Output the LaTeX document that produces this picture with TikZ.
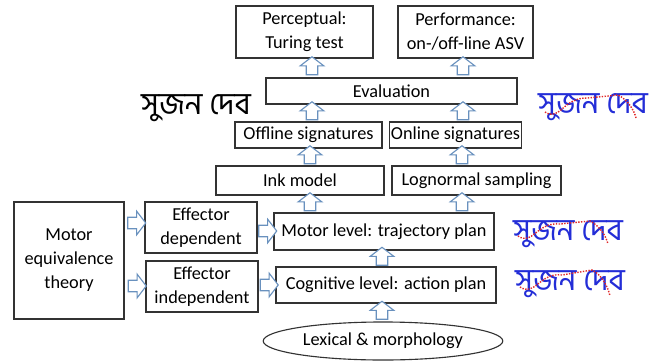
\documentclass[tikz,border=0pt]{standalone}
\usepackage{fontspec}
\setmainfont{Carlito}
\newfontfamily\bnfont[Script=Bengali]{Hind Siliguri}
\usetikzlibrary{shapes.geometric,shapes.arrows}
\definecolor{arrowc}{RGB}{105,145,190}
\definecolor{inkblue}{RGB}{35,45,215}
\definecolor{inkred}{RGB}{225,40,40}
\begin{document}
\begin{tikzpicture}
[x=0.025cm, y=-0.025cm, font=\fontsize{13}{17}\selectfont]
\tikzstyle{box}=[rectangle, draw=black!80, line width=0.8pt, fill=white, align=center, inner sep=1pt]
\tikzstyle{rarrow}=[single arrow, draw=arrowc, fill=white, line width=0.8pt, minimum height=0.45cm, inner xsep=0pt, inner ysep=0.13cm, single arrow head extend=0.15cm, single arrow tip angle=105, text height=0pt, text depth=0pt]
\tikzstyle{uparrow}=[rarrow, rotate=90]
\tikzstyle{sign}=[font=\bnfont\fontsize{22}{22}\selectfont, inner sep=0pt]
\useasboundingbox (0,0) rectangle (665,362);

% evaluation boxes
\node[box, minimum width=3.425cm, minimum height=1.3cm]  (perc)  at (304.5,32)  {Perceptual:\\Turing test};
\node[box, minimum width=3.375cm, minimum height=1.3cm]  (perf)  at (465.5,32)  {Performance:\\on-/off-line ASV};
\node[box, minimum width=6.275cm, minimum height=0.65cm] (evalu) at (391.5,91)  {Evaluation};

% synthesis
\node[box, minimum width=3.675cm, minimum height=0.65cm]  (offl)  at (308.5,135) {Offline signatures};
\node[box, minimum width=3.275cm, minimum height=0.65cm]  (onl)   at (455.5,135) {Online signatures};
\node[box, minimum width=4.2cm,   minimum height=0.725cm] (ink)   at (300,180.5) {Ink model};
\node[box, minimum width=4.225cm, minimum height=0.725cm] (logn)  at (476.5,180.5) {Lognormal sampling};
\node[box, minimum width=5.5cm,   minimum height=0.925cm] (motor) at (384,231.5) {Motor level: trajectory plan};
\node[box, minimum width=5.5cm,   minimum height=0.9cm]   (cogn)  at (386,285)   {Cognitive level: action plan};
\node[ellipse, draw=black!80, line width=0.8pt, minimum width=5.75cm, minimum height=0.95cm] (lex) at (383,341) {Lexical \& morphology};

% motor equivalence
\node[box, minimum width=2.75cm, minimum height=2.925cm] (meq)  at (69,260.5) {Motor\\equivalence\\theory};
\node[box, minimum width=2.8cm,  minimum height=1.275cm] (effd) at (201,227.5) {Effector\\dependent};
\node[box, minimum width=2.8cm,  minimum height=1.275cm] (effi) at (202,286.5) {Effector\\independent};

% hollow arrows
\path (evalu.north -| 312,0) -- node[uparrow] {} (perc.south -| 312,0);
\path (evalu.north -| 463,0) -- node[uparrow] {} (perf.south -| 463,0);
\path (offl.north -| 312,0)  -- node[uparrow] {} (evalu.south -| 312,0);
\path (onl.north -| 463,0)   -- node[uparrow] {} (evalu.south -| 463,0);
\path (ink.north -| 310,0)   -- node[uparrow] {} (offl.south -| 310,0);
\path (logn.north -| 462,0)  -- node[uparrow] {} (onl.south -| 462,0);
\path (motor.north -| 310,0) -- node[uparrow] {} (ink.south -| 310,0);
\path (motor.north -| 462,0) -- node[uparrow] {} (logn.south -| 462,0);
\path (cogn.north -| 382,0)  -- node[uparrow] {} (motor.south -| 382,0);
\path (lex.north -| 382,0)   -- node[uparrow] {} (cogn.south -| 382,0);
\path (meq.east |- 0,223)    -- node[rarrow] {} (effd.west |- 0,223);
\path (meq.east |- 0,286)    -- node[rarrow] {} (effi.west |- 0,286);
\path (effd.east |- 0,231)   -- node[rarrow] {} (motor.west |- 0,231);
\path (effi.east |- 0,285)   -- node[rarrow] {} (cogn.west |- 0,285);

% signatures
\node[sign] (sgoff) at (196,108) {সুজন দেব};
\node[sign, text=inkblue] (sgon)  at (593,107) {সুজন দেব};
\node[sign, text=inkblue] (sgmot) at (568,234) {সুজন দেব};
\node[sign, text=inkblue] (sgcog) at (570,284) {সুজন দেব};
\draw[inkred, densely dotted, line width=1pt] (545,112) .. controls (560,122) and (563,97) .. (588,98) -- (618,95) .. controls (628,100) and (634,110) .. (636,118);
\draw[inkred, densely dotted, line width=1pt] (518,236) .. controls (533,246) and (536,222) .. (560,224) -- (590,221) .. controls (600,226) and (606,236) .. (608,244);
\draw[inkred, densely dotted, line width=1pt] (520,287) .. controls (535,297) and (540,272) .. (562,275) -- (592,270) .. controls (602,275) and (608,287) .. (610,296);
\end{tikzpicture}
\end{document}
